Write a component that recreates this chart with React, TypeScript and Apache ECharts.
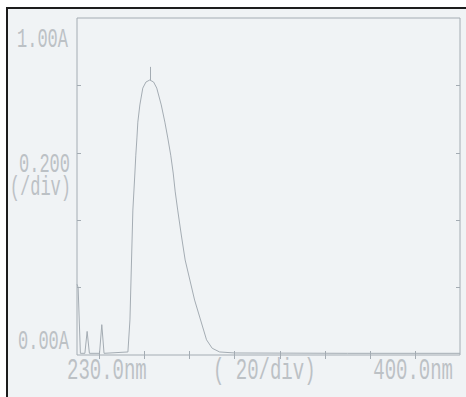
import React, { useEffect, useRef } from "react";
import * as echarts from "echarts";

// Spectrum (wavelength in nm, absorbance in A)
const wavelengths = [
  230, 230.5, 231.5, 233.5, 234.5, 235.5, 240, 241, 242, 252.6, 253.5, 254.8,
  255.7, 256.1, 256.6, 257.0, 257.9, 259.2, 260.6, 262.3, 264.0, 265.4, 267.4,
  269.0, 270.3, 271.6, 272.7, 273.6, 274.7, 276.3, 278.0, 282.2, 287.5, 290.0,
  293.3, 300, 350, 400,
];
const absorbance = [
  0.21, 0.2, 0.005, 0.005, 0.07, 0.005, 0.005, 0.09, 0.005, 0.009, 0.104, 0.43,
  0.54, 0.593, 0.644, 0.691, 0.742, 0.792, 0.81, 0.816, 0.81, 0.792, 0.742,
  0.691, 0.644, 0.593, 0.54, 0.484, 0.43, 0.356, 0.282, 0.163, 0.045, 0.02,
  0.009, 0.006, 0.005, 0.005,
];
const xTickValues = [240, 260, 280, 300, 320, 340, 360, 380];
const yTickValues = [0.2, 0.4, 0.6, 0.8];
const peakWavelength = 262.3;
const peakMarkTop = 0.855;
const peakValue = 0.816;

const yTopLabel = "1.00A";
const yMidLabel = "0.200";
const yUnitLabel = "(/div)";
const yBottomLabel = "0.00A";
const xStartLabel = "230.0nm";
const xStepLabel = "( 20/div)";
const xEndLabel = "400.0nm";

const FONT = "'Liberation Mono', 'DejaVu Sans Mono', monospace";
const TEXT_COLOR = "#bcc1c5";
const LINE_COLOR = "#a4acb3";

function label(text: string, x: number, y: number, align: string, size: number) {
  return {
    type: "text",
    x,
    y,
    scaleY: 1.6,
    z: 10,
    style: {
      text,
      fill: TEXT_COLOR,
      font: `${size}px ${FONT}`,
      align,
      verticalAlign: "middle",
    },
  };
}

export default function App() {
  const ref = useRef<HTMLDivElement>(null);

  useEffect(() => {
    if (!ref.current) return;
    const chart = echarts.init(ref.current, null, { renderer: "svg" });
    const data = wavelengths.map((w, i) => [w, absorbance[i]]);
    const tickStyle = { show: true, inside: true, length: 4, lineStyle: { color: LINE_COLOR, width: 1 } };

    chart.setOption({
      animation: false,
      backgroundColor: "transparent",
      grid: {
        left: 69,
        top: 9,
        right: 6,
        bottom: 42,
        show: true,
        borderColor: LINE_COLOR,
        borderWidth: 1,
        backgroundColor: "transparent",
      },
      xAxis: [
        {
          type: "value",
          min: 230,
          max: 400,
          position: "bottom",
          axisLine: { show: false },
          axisTick: { ...tickStyle, customValues: xTickValues },
          axisLabel: { show: false },
          splitLine: { show: false },
        },
        {
          type: "value",
          min: 230,
          max: 400,
          position: "top",
          axisLine: { show: false },
          axisTick: { ...tickStyle, customValues: xTickValues },
          axisLabel: { show: false },
          splitLine: { show: false },
        },
      ],
      yAxis: [
        {
          type: "value",
          min: 0,
          max: 1,
          position: "left",
          axisLine: { show: false },
          axisTick: { ...tickStyle, customValues: yTickValues },
          axisLabel: { show: false },
          splitLine: { show: false },
        },
        {
          type: "value",
          min: 0,
          max: 1,
          position: "right",
          axisLine: { show: false },
          axisTick: { ...tickStyle, customValues: yTickValues },
          axisLabel: { show: false },
          splitLine: { show: false },
        },
      ],
      series: [
        {
          type: "line",
          data,
          xAxisIndex: 0,
          yAxisIndex: 0,
          showSymbol: false,
          symbol: "none",
          smooth: false,
          lineStyle: { color: LINE_COLOR, width: 1 },
          markLine: {
            silent: true,
            symbol: "none",
            label: { show: false },
            lineStyle: { color: LINE_COLOR, width: 1, type: "solid" },
            data: [
              [
                { coord: [peakWavelength, peakValue] },
                { coord: [peakWavelength, peakMarkTop] },
              ],
            ],
          },
        },
      ],
      graphic: [
        label(yTopLabel, 60, 31, "right", 17),
        label(yMidLabel, 62, 156, "right", 17),
        label(yUnitLabel, 63, 179, "right", 17),
        label(yBottomLabel, 61, 333, "right", 17),
        label(xStartLabel, 59, 362, "left", 19),
        label(xStepLabel, 205, 362, "left", 19),
        label(xEndLabel, 445, 362, "right", 19),
      ],
    });
    return () => chart.dispose();
  }, []);

  return (
    <div
      style={{
        position: "fixed",
        left: 0,
        top: 0,
        width: 466,
        height: 397,
        background: "#ffffff",
        overflow: "hidden",
      }}
    >
      <div
        style={{
          position: "absolute",
          left: 6,
          top: 7,
          width: 460,
          height: 390,
          boxSizing: "border-box",
          borderTop: "2px solid #1c1c1c",
          borderLeft: "2px solid #1c1c1c",
          background: "#f0f3f5",
        }}
      />
      <div
        ref={ref}
        style={{ position: "absolute", left: 8, top: 9, width: 458, height: 388, overflow: "hidden" }}
      />
    </div>
  );
}
